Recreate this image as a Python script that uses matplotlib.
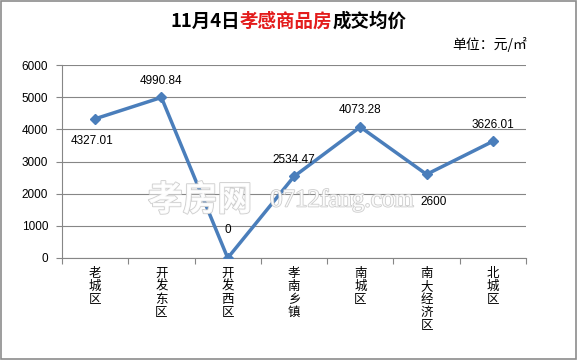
import matplotlib
matplotlib.use("Agg")
import matplotlib.pyplot as plt
from matplotlib.patches import Rectangle
import matplotlib.patheffects as pe

plt.rcParams['font.family'] = ['Noto Sans CJK SC', 'DejaVu Sans']

categories = ["老城区", "开发东区", "开发西区", "孝南乡镇", "南城区", "南大经济区", "北城区"]
values = [4327.01, 4990.84, 0, 2534.47, 4073.28, 2600, 3626.01]
labels = ["4327.01", "4990.84", "0", "2534.47", "4073.28", "2600", "3626.01"]
yticks = [0, 1000, 2000, 3000, 4000, 5000, 6000]

fig = plt.figure(figsize=(5.78, 3.6), dpi=100)
fig.patches.append(Rectangle((0.002, 0.003), 0.995, 0.993, transform=fig.transFigure,
                             fill=False, edgecolor='#8c8c8c', linewidth=1.2))

ax = fig.add_axes([62/578, 1-258/360, (526-62)/578, (258-65)/360])
x = list(range(len(categories)))
ax.plot(x, values, color='#4a7ebb', linewidth=2.5, marker='D', markersize=5.5, zorder=3)
ax.set_xlim(-0.5, len(categories)-0.5)
ax.set_ylim(0, 6000)
ax.set_yticks(yticks)
ax.set_yticklabels([str(v) for v in yticks], fontsize=8.5, family=['Liberation Sans', 'DejaVu Sans'])
ax.grid(axis='y', color='#868686', linewidth=0.8)
ax.set_axisbelow(True)
for s in ['top', 'right']:
    ax.spines[s].set_visible(False)
ax.spines['left'].set_color('#868686')
ax.spines['bottom'].set_color('#868686')
ax.tick_params(axis='y', length=4, color='#868686', pad=6)
ax.set_xticks([i - 0.5 for i in range(len(categories)+1)], minor=False)
ax.set_xticklabels([])
ax.tick_params(axis='x', length=4, color='#868686', direction='out')
for i, c in enumerate(categories):
    ax.text(i, -0.045, "\n".join(c), transform=ax.get_xaxis_transform(), ha='center', va='top',
            fontsize=9, linespacing=1.0)

# data labels (offset in points)
offsets = [(-2, -16), (0, 12), (0, 20), (0, 12), (0, 12), (5, -20), (0, 12)]
for i, (v, lab) in enumerate(zip(values, labels)):
    dx, dy = offsets[i]
    ax.annotate(lab, (i, v), xytext=(dx, dy), textcoords='offset points', ha='center', va='center',
                fontsize=8.5, family=['Liberation Sans', 'DejaVu Sans'], zorder=4)

# watermark
fig.text(148/578, 1-200/360, "孝房网", fontsize=25, color='white', ha='left', va='center', fontweight='bold',
         path_effects=[pe.withStroke(linewidth=1.2, foreground='#c8c8c8')], alpha=0.9, zorder=5)
fig.text(270/578, 1-200/360, "0712fang.com", fontsize=18, color='white', ha='left', va='center',
         family=['Liberation Serif', 'DejaVu Serif'],
         path_effects=[pe.withStroke(linewidth=1.2, foreground='#c8c8c8')], alpha=0.9, zorder=5)

# title, pieces placed consecutively
fig.canvas.draw()
renderer = fig.canvas.get_renderer()
parts = [("11月4日", 'black'), ("孝感商品房", '#e31c1c'), ("成交均价", 'black')]
xpos = 170
ty = 1 - 21/360
for txt, col in parts:
    t = fig.text(xpos/578, ty, txt, fontsize=13.3, fontweight='bold', color=col, ha='left', va='center')
    bb = t.get_window_extent(renderer=renderer)
    xpos += bb.width
fig.text(452/578, 1-45/360, "单位：元/㎡", fontsize=10, ha='left', va='center')

fig.savefig("out.png", dpi=100)
